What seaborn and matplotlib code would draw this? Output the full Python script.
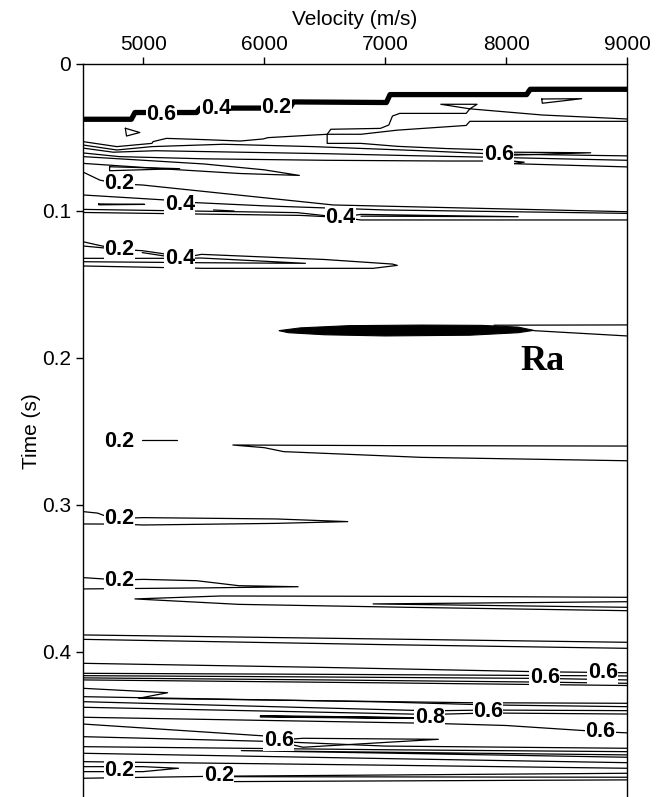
import numpy as np
import pandas as pd
import matplotlib
matplotlib.use("Agg")
import matplotlib.pyplot as plt
import seaborn as sns

# velocity (m/s), time (s) pairs
mute = [(4500, 0.0376), (4900, 0.0376), (4930, 0.0330), (5440, 0.0330), (5470, 0.0300),
        (6210, 0.0300), (6240, 0.0258), (7010, 0.0262), (7040, 0.0208), (8170, 0.0208),
        (8200, 0.0172), (9000, 0.0172)]

top_lines = [
    [(4850, 0.0437), (4970, 0.0466), (4860, 0.0490), (4850, 0.0437)],
    [(8295, 0.0238), (8625, 0.0236), (8300, 0.0267), (8295, 0.0238)],
    [(4500, 0.0528), (4780, 0.0562), (5070, 0.0540), (5080, 0.0528), (5190, 0.0506),
     (5520, 0.0515), (5800, 0.0524), (5990, 0.0510), (6030, 0.0501), (6520, 0.0478),
     (6550, 0.0444), (6960, 0.0438), (7030, 0.0415), (7060, 0.0354), (7120, 0.0336),
     (7670, 0.0336), (7700, 0.0305), (7460, 0.0274), (7760, 0.0274), (7700, 0.0305),
     (8300, 0.0347), (9000, 0.0374)],
    [(9000, 0.0390), (7700, 0.0390), (7670, 0.0418), (7100, 0.0450), (6800, 0.0478),
     (6520, 0.0478), (6520, 0.0540), (6800, 0.0540), (7100, 0.0560), (7500, 0.0575),
     (7900, 0.0585)],
    [(4500, 0.0551), (4780, 0.0585), (5070, 0.0562), (5660, 0.0546), (6400, 0.0562),
     (6790, 0.0574), (7300, 0.0590), (7900, 0.0612), (9000, 0.0625)],
    [(4500, 0.0572), (4750, 0.0600), (5100, 0.0590), (5800, 0.0600), (6500, 0.0610),
     (7300, 0.0625), (7900, 0.0635), (9000, 0.0655)],
    [(8050, 0.0600), (8700, 0.0604), (8050, 0.0620), (8050, 0.0600)],
    [(4500, 0.0605), (4800, 0.0630), (5500, 0.0645), (6500, 0.0655), (7500, 0.0660),
     (8050, 0.0660), (8150, 0.0668), (8050, 0.0678), (9000, 0.0700)],
    [(4500, 0.0630), (5500, 0.0680), (6000, 0.0720), (6290, 0.0758), (5800, 0.0745),
     (5200, 0.0715), (4500, 0.0676)],
    [(4720, 0.0699), (5300, 0.0712), (4720, 0.0726), (4720, 0.0699)],
    [(4500, 0.0735), (4640, 0.0790), (4800, 0.0816), (4990, 0.0823), (6570, 0.0959),
     (9000, 0.1005)],
    [(4500, 0.0891), (5180, 0.0925), (5300, 0.0955), (5430, 0.0943), (6000, 0.0965),
     (7000, 0.0993), (9000, 0.1016)],
    [(4630, 0.0952), (5010, 0.0955), (4630, 0.0958), (4630, 0.0952)],
    [(5580, 0.0993), (5750, 0.1000)],
    [(4500, 0.0989), (6270, 0.1011), (6630, 0.1043), (6800, 0.1023), (8100, 0.1039),
     (6800, 0.1035)],
    [(4500, 0.1010), (6300, 0.1030), (6630, 0.1043), (6800, 0.1061), (9000, 0.1061)],
    [(4500, 0.1209), (4640, 0.1235), (4800, 0.1261), (4990, 0.1270), (5160, 0.1290),
     (5300, 0.1322), (5480, 0.1295), (6500, 0.1330), (7060, 0.1361), (7100, 0.1370),
     (6900, 0.1390), (5500, 0.1390), (4500, 0.1374)],
    [(4500, 0.1238), (4800, 0.1261)],
    [(4990, 0.1283), (5300, 0.1322)],
    [(4500, 0.1322), (5300, 0.1322), (5480, 0.1320), (6340, 0.1356), (5500, 0.1352),
     (4500, 0.1345)],
]

ell_v = [6120, 6300, 6700, 7300, 7800, 8100, 8230, 8100, 7700, 7000, 6500, 6200, 6120]
ell_t = [0.1814, 0.1795, 0.1780, 0.1776, 0.1778, 0.1790, 0.1812, 0.1828, 0.1845,
         0.1850, 0.1842, 0.1828, 0.1814]

low_lines = [
    [(7900, 0.1777), (9000, 0.1775)],
    [(8230, 0.1814), (9000, 0.1850)],
    [(4985, 0.2558), (5275, 0.2558)],
    [(9000, 0.2599), (7000, 0.2596), (5740, 0.2592), (6000, 0.2610), (6160, 0.2637),
     (7300, 0.2676), (9000, 0.2699)],
    [(4500, 0.3045), (4620, 0.3055), (4700, 0.3079), (4800, 0.3091), (5000, 0.3086),
     (6100, 0.3095), (6690, 0.3113), (6100, 0.3125), (5000, 0.3136), (4800, 0.3130),
     (4500, 0.3129)],
    [(4500, 0.3494), (4800, 0.3510), (5000, 0.3506), (5440, 0.3515), (5790, 0.3549),
     (6280, 0.3556), (5500, 0.3564), (4500, 0.3571)],
    [(9000, 0.3628), (7500, 0.3622), (5640, 0.3619), (4930, 0.3639), (5790, 0.3676),
     (7180, 0.3696), (9000, 0.3719)],
    [(9000, 0.3658), (6900, 0.3673), (9000, 0.3696)],
    [(4500, 0.3884), (9000, 0.3934)],
    [(4500, 0.3914), (7000, 0.3950), (9000, 0.3975)],
    [(4500, 0.4077), (6500, 0.4105), (8320, 0.4135), (9000, 0.4141)],
    [(4500, 0.4145), (6500, 0.4152), (8320, 0.4160), (9000, 0.4163)],
    [(4500, 0.4161), (6500, 0.4170), (8320, 0.4180), (9000, 0.4190)],
    [(4500, 0.4176), (6500, 0.4190), (8320, 0.4205), (9000, 0.4213)],
    [(4500, 0.4190), (7000, 0.4210), (9000, 0.4228)],
    [(4500, 0.4247), (5200, 0.4277), (4960, 0.4315), (7700, 0.4345), (9000, 0.4349)],
    [(4500, 0.4304), (7000, 0.4340), (7850, 0.4360), (9000, 0.4372)],
    [(4500, 0.4338), (7370, 0.4400), (7850, 0.4395), (9000, 0.4399)],
    [(4500, 0.4376), (7370, 0.4425), (7850, 0.4415), (9000, 0.4422)],
    [(4500, 0.4444), (7370, 0.4485), (8000, 0.4500), (8780, 0.4542), (9000, 0.4550)],
    [(4500, 0.4490), (6000, 0.4571), (6120, 0.4599), (6320, 0.4587), (7440, 0.4594),
     (6320, 0.4648), (6120, 0.4610)],
    [(4500, 0.4576), (6120, 0.4610), (7000, 0.4640), (9000, 0.4655)],
    [(4500, 0.4644), (7000, 0.4665), (9000, 0.4678)],
    [(9000, 0.4700), (5810, 0.4671), (9000, 0.4716)],
    [(4500, 0.4689), (7000, 0.4725), (9000, 0.4753)],
    [(4500, 0.4746), (7000, 0.4770), (9000, 0.4791)],
    [(4500, 0.4780), (4995, 0.4780), (5290, 0.4791), (4995, 0.4814), (4500, 0.4814)],
    [(4500, 0.4859), (5625, 0.4845), (9000, 0.4825)],
    [(5625, 0.4848), (9000, 0.4852)],
    [(5625, 0.4882), (9000, 0.4870)],
]

dark_lines = [
    [(5970, 0.4435), (7300, 0.4450), (5970, 0.4440)],
]

label_text = ["0.6", "0.4", "0.2", "0.6", "0.2", "0.4", "0.4", "0.2", "0.4",
              "0.2", "0.2", "0.2", "0.6", "0.6", "0.8", "0.6", "0.6", "0.6",
              "0.2", "0.2"]
label_v = [5150, 5600, 6100, 7940, 4800, 5300, 6630, 4800, 5300,
           4800, 4800, 4800, 8320, 8800, 7370, 7850, 8780, 6120,
           4800, 5625]
label_t = [0.0345, 0.0306, 0.0297, 0.0619, 0.0816, 0.0955, 0.1043, 0.1261, 0.1322,
           0.2569, 0.3091, 0.3515, 0.4172, 0.4141, 0.4444, 0.4406, 0.4542, 0.4599,
           0.4803, 0.4841]

vel_ticks = [5000, 6000, 7000, 8000, 9000]
time_ticks = [0, 0.1, 0.2, 0.3, 0.4]
time_labels = ["0", "0.1", "0.2", "0.3", "0.4"]


def to_frame(lines, start=0):
    rows = []
    for i, ln in enumerate(lines):
        for k, (v, t) in enumerate(ln):
            rows.append({"line": start + i, "order": k, "v": v, "t": t})
    return pd.DataFrame(rows)


sns.set_style("ticks")
plt.rcParams["font.family"] = ["Liberation Sans", "DejaVu Sans"]
plt.rcParams["text.color"] = "black"
plt.rcParams["axes.labelcolor"] = "black"
plt.rcParams["xtick.color"] = "black"
plt.rcParams["ytick.color"] = "black"

fig = plt.figure(figsize=(6.65, 7.97), dpi=100)
ax = fig.add_axes([0.1248, -0.0025, 0.818, 0.9222])

thin = to_frame(top_lines + low_lines)
sns.lineplot(data=thin, x="v", y="t", units="line", estimator=None, sort=False,
             color="black", lw=0.9, ax=ax)
dark = to_frame(dark_lines)
sns.lineplot(data=dark, x="v", y="t", units="line", estimator=None, sort=False,
             color="black", lw=1.4, ax=ax)
sns.lineplot(data=to_frame([mute]), x="v", y="t", units="line", estimator=None,
             sort=False, color="black", lw=3.8, ax=ax)
ax.fill(ell_v, ell_t, color="black", lw=0.8)

for s, v, t in zip(label_text, label_v, label_t):
    ax.text(v, t, s, ha="center", va="center", fontsize=15.5, fontweight="bold",
            color="black",
            bbox=dict(facecolor="white", edgecolor="none", pad=0.3), zorder=5)

ax.text(8300, 0.2025, "Ra", ha="center", va="center", fontsize=26,
        fontweight="bold", family="Liberation Serif", color="black")

ax.set_xlim(4500, 9000)
ax.set_ylim(0.5, 0)
ax.xaxis.tick_top()
ax.xaxis.set_label_position("top")
ax.set_xticks(vel_ticks)
ax.set_yticks(time_ticks)
ax.set_yticklabels(time_labels)
ax.set_xlabel("Velocity (m/s)", fontsize=15, labelpad=7)
ax.set_ylabel("Time (s)", fontsize=15, labelpad=1)
ax.tick_params(axis="both", labelsize=15, length=5, width=1, direction="out",
               color="black", labelcolor="black")
ax.tick_params(axis="x", pad=2.5)
ax.spines["bottom"].set_visible(False)
for s in ["left", "top", "right"]:
    ax.spines[s].set_linewidth(1)
    ax.spines[s].set_color("black")

fig.savefig("out.png", dpi=100)
